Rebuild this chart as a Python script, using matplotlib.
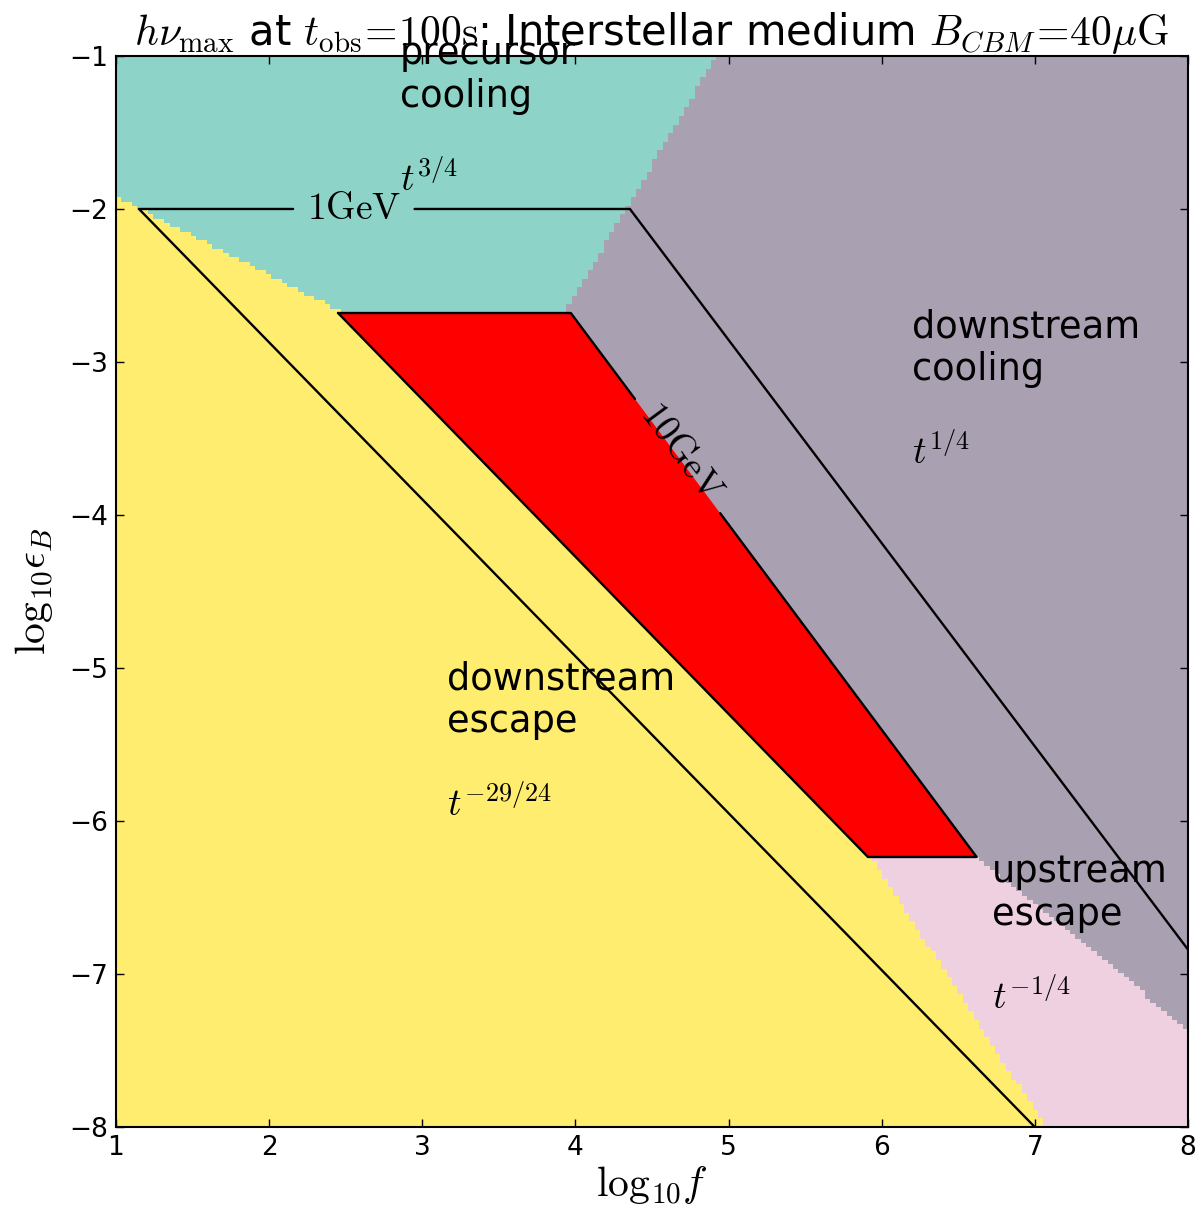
import numpy as np
import matplotlib
matplotlib.use('Agg')
import matplotlib.pyplot as plt
from matplotlib.colors import ListedColormap

plt.rcParams['mathtext.fontset'] = 'cm'
plt.rcParams['font.family'] = 'DejaVu Sans'
plt.rcParams['xtick.direction'] = 'in'
plt.rcParams['ytick.direction'] = 'in'
plt.rcParams['xtick.top'] = True
plt.rcParams['ytick.right'] = True
plt.rcParams['xtick.major.size'] = 6
plt.rcParams['ytick.major.size'] = 6

# regime boundaries in (log10 f, log10 eps_B), two nodes per line
precursor_vs_escape = ([1.0, 2.45], [-1.92, -2.66])
precursor_vs_cooling = ([3.93, 4.92], [-2.68, -1.0])
cooling_vs_upstream = ([6.62, 8.0], [-6.235, -7.36])
escape_vs_upstream = ([5.93, 7.07], [-6.235, -8.0])
escape_vs_cooling = ([3.6, 5.16], [-3.25, -5.05])

regime_names = ['downstream\nescape', 'precursor\ncooling',
                'downstream\ncooling', 'upstream\nescape']
regime_scalings = [r'$t^{-29/24}$', r'$t^{3/4}$', r'$t^{1/4}$', r'$t^{-1/4}$']
regime_colors = ['#ffed6f', '#8dd3c7', '#a9a0b2', '#efd0e1']

# hnu_max contours
gev1_f = [8.0, 4.356, 1.15, 7.0]
gev1_eps = [-6.84, -2.0, -2.0, -8.0]
gev10_f = [2.45, 3.97, 6.62, 5.91, 2.45]
gev10_eps = [-2.68, -2.68, -6.235, -6.235, -2.68]


def above(fg, eg, line):
    (x0, x1), (y0, y1) = line
    return eg > y0 + (y1 - y0) / (x1 - x0) * (fg - x0)


def draw_with_gap(ax, xs, ys, seg, t0, t1, **kw):
    # split the polyline inside segment `seg` between fractions t0 and t1
    xa, ya, xb, yb = xs[seg], ys[seg], xs[seg + 1], ys[seg + 1]
    p0 = (xa + t0 * (xb - xa), ya + t0 * (yb - ya))
    p1 = (xa + t1 * (xb - xa), ya + t1 * (yb - ya))
    ax.plot(list(xs[:seg + 1]) + [p0[0]], list(ys[:seg + 1]) + [p0[1]], **kw)
    ax.plot([p1[0]] + list(xs[seg + 1:]), [p1[1]] + list(ys[seg + 1:]), **kw)


f_edges = np.linspace(1, 8, 201)
e_edges = np.linspace(-8, -1, 251)
fc = 0.5 * (f_edges[1:] + f_edges[:-1])
ec = 0.5 * (e_edges[1:] + e_edges[:-1])
F, E = np.meshgrid(fc, ec)

regime = np.zeros(F.shape, dtype=int)
regime[above(F, E, escape_vs_cooling)] = 2
upstream = ~above(F, E, cooling_vs_upstream) & above(F, E, escape_vs_upstream)
regime[upstream] = 3
precursor = above(F, E, precursor_vs_escape) & above(F, E, precursor_vs_cooling)
regime[precursor] = 1

fig = plt.figure(figsize=(12.03, 12.30), dpi=100)
ax = fig.add_axes([0.0964, 0.0837, 0.8911, 0.8708])
ax.pcolormesh(f_edges, e_edges, regime, cmap=ListedColormap(regime_colors),
              vmin=-0.5, vmax=3.5)

ax.fill(gev10_f, gev10_eps, color='red', lw=0)

line_kw = dict(color='black', lw=1.7, solid_joinstyle='round',
               solid_capstyle='round')
draw_with_gap(ax, gev1_f, gev1_eps, 1, 0.4386, 0.686, **line_kw)
draw_with_gap(ax, gev10_f, gev10_eps, 1, 0.158, 0.368, **line_kw)

ax.text(2.554, -2.0, r'$1{\rm GeV}$', fontsize=27, ha='center', va='center')
ax.text(4.69, -3.59, r'$10{\rm GeV}$', fontsize=27, ha='center', va='center',
        rotation=-53.6, rotation_mode='anchor')

# regime labels: name then time scaling below it
name_pos = [(3.16, -5.42), (2.855, -1.333), (6.2, -3.117), (6.72, -6.68)]
for name, scaling, (x, y) in zip(regime_names, regime_scalings, name_pos):
    ax.text(x, y, name, fontsize=26.5, ha='left', va='baseline')
    ax.text(x, y - 0.55, scaling, fontsize=27, ha='left', va='baseline')

ax.set_xlim(1, 8)
ax.set_ylim(-8, -1)
ax.tick_params(labelsize=19, width=1, pad=6)
for s in ax.spines.values():
    s.set_linewidth(1.5)
ax.set_xlabel(r'$\mathrm{log}_{10}f$', fontsize=30, labelpad=2)
ax.set_ylabel(r'$\mathrm{log}_{10}\epsilon_B$', fontsize=30, labelpad=10)
ax.set_title(r'$h\nu_{\rm max}$ at $t_{\rm obs}\!=\!100{\rm s}$: Interstellar medium '
             r'$B_{CBM}\!=\!40\mu{\rm G}$', fontsize=30, pad=4)

fig.savefig('out.png', dpi=100, facecolor='white')
